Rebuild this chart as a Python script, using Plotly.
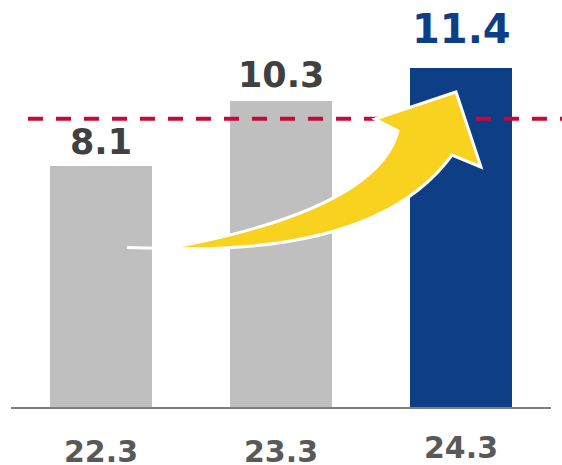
import plotly.graph_objects as go

# ---- data ----
categories = ["22.3", "23.3", "24.3"]
values = [8.1, 10.3, 11.4]
value_labels = ["8.1", "10.3", "11.4"]
target_value = 9.7

# ---- style ----
bar_colors = ["#BFBFBF", "#BFBFBF", "#0D3E86"]
label_colors = ["#404040", "#404040", "#0D3E86"]
label_sizes = [35, 35, 40]
label_shift = [24, 26, 39]      # px from bar top to label centre
cat_shift = [-44, -44, -40]     # px below baseline to category label centre
FONT = "DejaVu Sans"

W, H = 562, 465
L, R, T, B = 11, 11, 0, 58
PW, PH = W - L - R, H - T - B
px_per_unit = 29.72
ymax = PH / px_per_unit

fig = go.Figure()
fig.add_trace(go.Bar(
    x=categories, y=values, marker=dict(color=bar_colors, line=dict(width=0)),
    width=0.567, hoverinfo="skip",
))

annotations = []
for i, (v, t, col, sz, sh) in enumerate(zip(values, value_labels, label_colors, label_sizes, label_shift)):
    annotations.append(dict(x=i, y=v, xref="x", yref="y", text=f"<b>{t}</b>",
                            showarrow=False, yanchor="middle", yshift=sh,
                            font=dict(family=FONT, size=sz, color=col)))
for i, (c, sh) in enumerate(zip(categories, cat_shift)):
    annotations.append(dict(x=i, y=0, xref="x", yref="paper", text=f"<b>{c}</b>",
                            showarrow=False, yanchor="middle", yshift=sh,
                            font=dict(family=FONT, size=30, color="#595959")))


def P(px, py):
    """pixel -> paper coordinates"""
    return (px - L) / PW, (H - B - py) / PH


def pt(px, py):
    x, y = P(px, py)
    return f"{x:.5f},{y:.5f}"


arrow_path = (
    f"M {pt(167,248.5)} Q {pt(377,210)} {pt(398,131)} "
    f"L {pt(375,119)} L {pt(456,92)} L {pt(481,167)} L {pt(452,155)} "
    f"Q {pt(380,254)} {pt(167,248.5)} Z"
)

x0p, _ = P(28, 0)
x1p, _ = P(562, 0)
tx0, ty0 = P(127, 247.5)
tx1, ty1 = P(167, 248.5)

shapes = [
    dict(type="line", xref="paper", yref="y", x0=x0p, x1=x1p, y0=target_value, y1=target_value,
         line=dict(color="#C5093B", width=4, dash="15px,13px"), layer="above"),
    dict(type="line", xref="paper", yref="paper", x0=tx0, y0=ty0, x1=tx1, y1=ty1,
         line=dict(color="white", width=3), layer="above"),
    dict(type="path", xref="paper", yref="paper", path=arrow_path,
         fillcolor="#F9D11F", line=dict(color="white", width=3), layer="above"),
]

fig.update_layout(
    width=W, height=H,
    margin=dict(l=L, r=R, t=T, b=B),
    paper_bgcolor="white", plot_bgcolor="white",
    showlegend=False,
    bargap=0,
    xaxis=dict(type="category", range=[-0.5, 2.5], showticklabels=False, ticks="",
               showgrid=False, zeroline=False, showline=True, linecolor="#7F7F7F", linewidth=2),
    yaxis=dict(range=[0, ymax], visible=False, showgrid=False, zeroline=False),
    annotations=annotations,
    shapes=shapes,
)

fig.write_html("out.html", config={"displayModeBar": False},
               post_script="document.body.style.margin='0';document.body.style.overflow='hidden';")
